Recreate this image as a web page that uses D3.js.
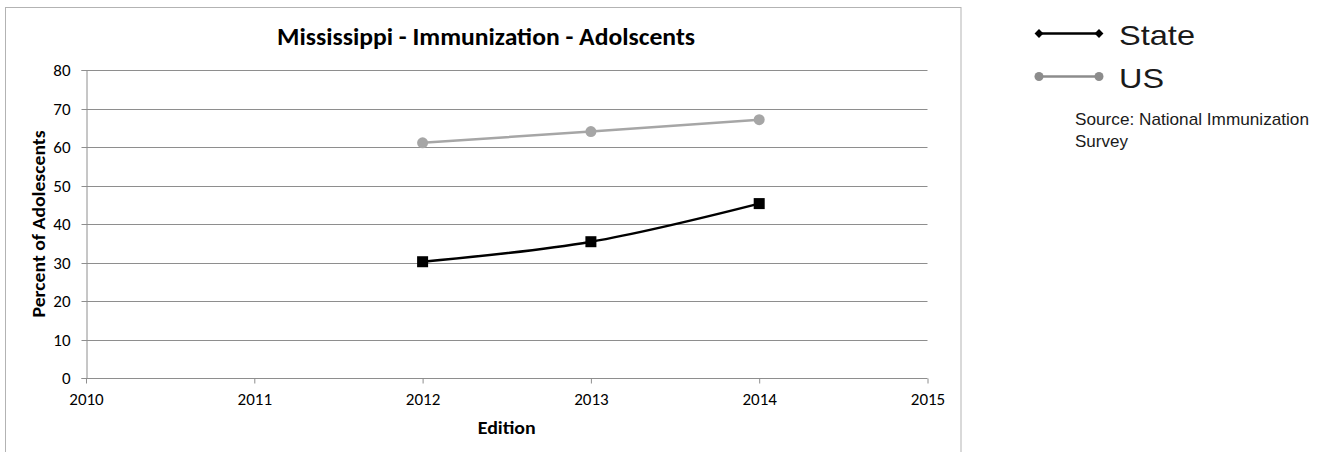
<!DOCTYPE html>
<html>
<head>
<meta charset="utf-8">
<script src="https://cdn.jsdelivr.net/npm/d3@7"></script>
<style>
  html, body { margin: 0; padding: 0; background: #fff; }
  svg { display: block; }
</style>
</head>
<body>
<svg id="chart" width="1329" height="452"></svg>
<script>
const years = [2012, 2013, 2014];
const stateValues = [30.2, 35.4, 45.3];
const usValues = [61.1, 64.0, 67.1];
const xTicks = [2010, 2011, 2012, 2013, 2014, 2015];
const yTicks = [0, 10, 20, 30, 40, 50, 60, 70, 80];
const seriesNames = ["State", "US"];
const titleText = "Mississippi - Immunization - Adolscents";
const yLabel = "Percent of Adolescents";
const xLabel = "Edition";
const sourceLines = ["Source: National Immunization", "Survey"];

const svg = d3.select("#chart");
const font = "Calibri, Carlito, Lato, 'Open Sans', sans-serif";

// chart frame
svg.append("rect")
  .attr("x", 5.5).attr("y", 7.5)
  .attr("width", 955.5).attr("height", 460)
  .attr("fill", "#fff").attr("stroke", "#b3b3b3").attr("stroke-width", 1);

const x = d3.scaleLinear().domain([2010, 2015]).range([86, 927.5]);
const y = d3.scaleLinear().domain([0, 80]).range([378, 70]);

// gridlines
svg.append("g").selectAll("line").data(yTicks.filter(d => d > 0)).join("line")
  .attr("x1", x(2010)).attr("x2", x(2015))
  .attr("y1", d => Math.round(y(d)) + 0.5).attr("y2", d => Math.round(y(d)) + 0.5)
  .attr("stroke", "#8e8e8e").attr("stroke-width", 1);

// y axis
const yAxis = svg.append("g")
  .attr("transform", `translate(${Math.round(x(2010)) + 0.5},0)`)
  .call(d3.axisLeft(y).tickValues(yTicks).tickSize(5).tickPadding(11).tickFormat(d3.format("d")));
yAxis.select(".domain").attr("stroke", "#8e8e8e");
yAxis.selectAll(".tick line").attr("stroke", "#8e8e8e");
yAxis.selectAll(".tick text").attr("font-family", font).attr("font-size", 17).attr("fill", "#000");
yAxis.selectAll(".tick").attr("transform", d => `translate(0,${Math.round(y(d)) + 0.5})`);

// x axis
const xAxis = svg.append("g")
  .attr("transform", `translate(0,${Math.round(y(0)) + 0.5})`)
  .call(d3.axisBottom(x).tickValues(xTicks).tickSize(5).tickPadding(9).tickFormat(d3.format("d")));
xAxis.select(".domain").attr("stroke", "#8e8e8e").attr("d", `M${x(2010)},0H${x(2015)}`);
xAxis.selectAll(".tick line").attr("stroke", "#8e8e8e");
xAxis.selectAll(".tick text").attr("font-family", font).attr("font-size", 17).attr("fill", "#000");

// US series
const usData = years.map((yr, i) => ({yr, v: usValues[i]}));
const stData = years.map((yr, i) => ({yr, v: stateValues[i]}));

svg.append("path").datum(usData)
  .attr("d", d3.line().x(d => x(d.yr)).y(d => y(d.v)))
  .attr("fill", "none").attr("stroke", "#a6a6a6").attr("stroke-width", 2.5);
svg.append("g").selectAll("circle").data(usData).join("circle")
  .attr("cx", d => x(d.yr)).attr("cy", d => y(d.v)).attr("r", 5.5)
  .attr("fill", "#a6a6a6");

// State series
svg.append("path").datum(stData)
  .attr("d", d3.line().x(d => x(d.yr)).y(d => y(d.v)).curve(d3.curveCatmullRom.alpha(0.5)))
  .attr("fill", "none").attr("stroke", "#000").attr("stroke-width", 2.5);
svg.append("g").selectAll("rect").data(stData).join("rect")
  .attr("x", d => x(d.yr) - 5.5).attr("y", d => y(d.v) - 5.5)
  .attr("width", 11).attr("height", 11).attr("fill", "#000");

// title
svg.append("text").attr("x", 486).attr("y", 45)
  .attr("text-anchor", "middle").attr("font-family", font).attr("font-weight", "bold")
  .attr("font-size", 24).attr("textLength", 418).attr("lengthAdjust", "spacingAndGlyphs")
  .text(titleText);

// axis titles
svg.append("text").attr("transform", `translate(45,${(y(0) + y(80)) / 2}) rotate(-90)`)
  .attr("text-anchor", "middle").attr("font-family", font).attr("font-weight", "bold")
  .attr("font-size", 18).attr("textLength", 187).attr("lengthAdjust", "spacingAndGlyphs")
  .text(yLabel);
svg.append("text").attr("x", (x(2010) + x(2015)) / 2).attr("y", 434)
  .attr("text-anchor", "middle").attr("font-family", font).attr("font-weight", "bold")
  .attr("font-size", 18).attr("textLength", 58).attr("lengthAdjust", "spacingAndGlyphs")
  .text(xLabel);

// legend
const legFont = "'Liberation Sans', Arial, sans-serif";
const leg = svg.append("g");
const legRows = [
  {name: seriesNames[0], y: 33.5, color: "#000", marker: "diamond", tl: 76},
  {name: seriesNames[1], y: 76.5, color: "#8c8c8c", marker: "circle", tl: 45}
];
legRows.forEach(r => {
  leg.append("line").attr("x1", 1039).attr("x2", 1099).attr("y1", r.y).attr("y2", r.y)
    .attr("stroke", r.color).attr("stroke-width", 2.5);
  [1039, 1099].forEach(cx => {
    if (r.marker === "diamond") {
      leg.append("path").attr("d", d3.symbol(d3.symbolDiamond2, 50)())
        .attr("transform", `translate(${cx},${r.y})`).attr("fill", r.color);
    } else {
      leg.append("circle").attr("cx", cx).attr("cy", r.y).attr("r", 4.5).attr("fill", r.color);
    }
  });
  leg.append("text").attr("x", 1119).attr("y", r.y + 11.5)
    .attr("font-family", legFont).attr("font-size", 28).attr("fill", "#1a1a1a")
    .attr("textLength", r.tl).attr("lengthAdjust", "spacingAndGlyphs").text(r.name);
});
sourceLines.forEach((t, i) => {
  svg.append("text").attr("x", 1075).attr("y", 125 + i * 21.5)
    .attr("font-family", legFont).attr("font-size", 17).attr("fill", "#1a1a1a")
    .attr("textLength", i === 0 ? 234 : null).attr("lengthAdjust", "spacingAndGlyphs")
    .text(t);
});
</script>
</body>
</html>
